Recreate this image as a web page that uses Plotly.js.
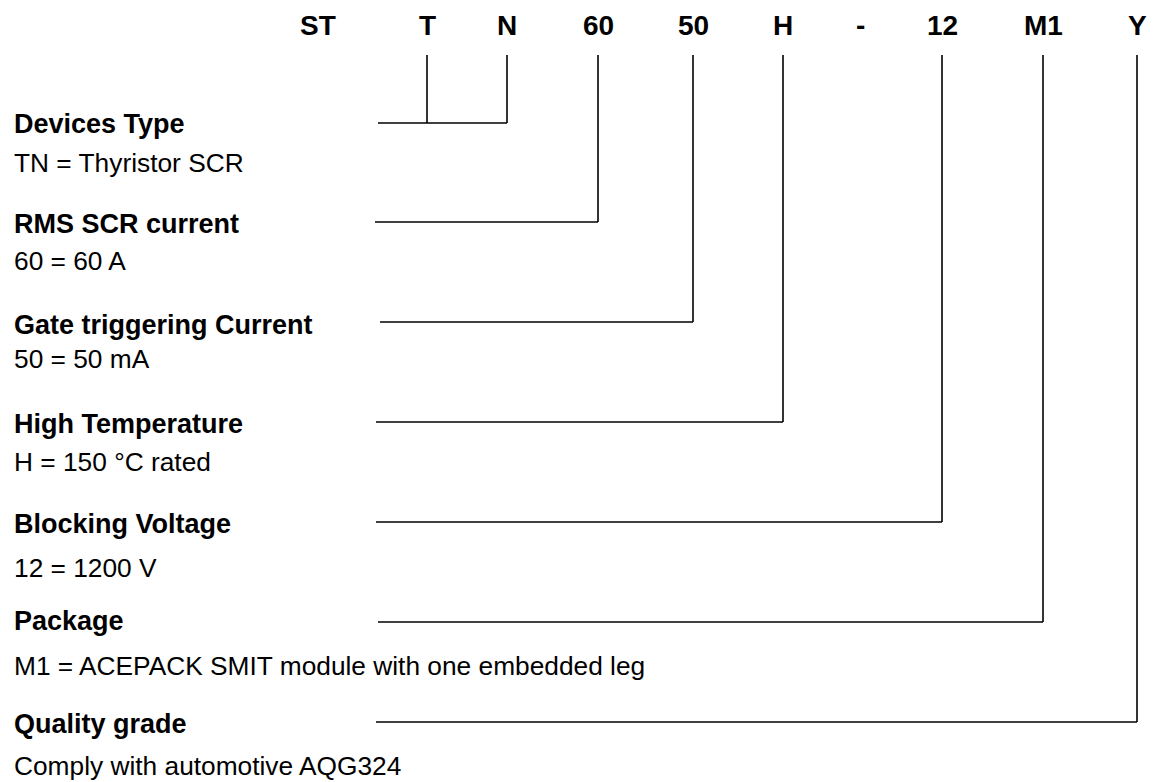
<!DOCTYPE html>
<html>
<head>
<meta charset="utf-8">
<script src="https://cdn.plot.ly/plotly-3.0.1.min.js"></script>
<style>html,body{margin:0;padding:0;background:#fff}#chart{width:1160px;height:782px}</style>
</head>
<body>
<div id="chart"></div>
<script>
// ---- content ----
const codes = ['ST', 'T', 'N', '60', '50', 'H', '-', '12', 'M1', 'Y'];
const headings = ['Devices Type', 'RMS SCR current', 'Gate triggering Current', 'High Temperature', 'Blocking Voltage', 'Package', 'Quality grade'];
const descriptions = ['TN = Thyristor SCR', '60 = 60 A', '50 = 50 mA', 'H = 150 \u00B0C rated', '12 = 1200 V', 'M1 = ACEPACK SMIT module with one embedded leg', 'Comply with automotive AQG324'];
const linkedCodes = [['T', 'N'], ['60'], ['50'], ['H'], ['12'], ['M1'], ['Y']];

// ---- layout geometry (pixel-like axis units) ----
const codePos = [318, 427, 507, 598, 693, 783, 860, 942, 1043, 1137];
const headerY = 25;
const stemTop = 55;
const rowY = [123, 222, 322, 422, 522, 622, 722];
const headY = [124, 224, 325, 424, 524, 621, 724];
const descY = [163, 261, 359, 462, 568, 666, 766];
const lineStart = [378, 375, 380, 376, 376, 378, 376];
const textX = 12;

const FONT = '"Liberation Sans", Arial, sans-serif';
const traces = [];
const lineStyle = {color: '#000', width: 1.6};

linkedCodes.forEach((group, i) => {
  const xs = group.map(c => codePos[codes.indexOf(c)]);
  const xEnd = Math.max(...xs);
  traces.push({x: [lineStart[i], xEnd], y: [rowY[i], rowY[i]], mode: 'lines', line: lineStyle, hoverinfo: 'skip', showlegend: false});
  xs.forEach(x => {
    traces.push({x: [x, x], y: [stemTop, rowY[i]], mode: 'lines', line: lineStyle, hoverinfo: 'skip', showlegend: false});
  });
});

const annotations = [];
codes.forEach((c, i) => {
  annotations.push({x: codePos[i], y: headerY, text: '<b>' + c + '</b>', showarrow: false, xanchor: 'center', yanchor: 'middle', font: {family: FONT, size: 28, color: '#000'}});
});
headings.forEach((h, i) => {
  annotations.push({x: textX, y: headY[i], text: '<b>' + h + '</b>', showarrow: false, xanchor: 'left', yanchor: 'middle', font: {family: FONT, size: 27, color: '#000'}});
  annotations.push({x: textX, y: descY[i], text: descriptions[i], showarrow: false, xanchor: 'left', yanchor: 'middle', font: {family: FONT, size: 26.3, color: '#000'}});
});

const layout = {
  width: 1160, height: 782,
  margin: {l: 0, r: 0, t: 0, b: 0},
  paper_bgcolor: '#fff', plot_bgcolor: '#fff',
  xaxis: {range: [0, 1160], visible: false, fixedrange: true},
  yaxis: {range: [782, 0], visible: false, fixedrange: true},
  annotations: annotations,
  showlegend: false
};
Plotly.newPlot('chart', traces, layout, {staticPlot: true, displayModeBar: false});
</script>
</body>
</html>
